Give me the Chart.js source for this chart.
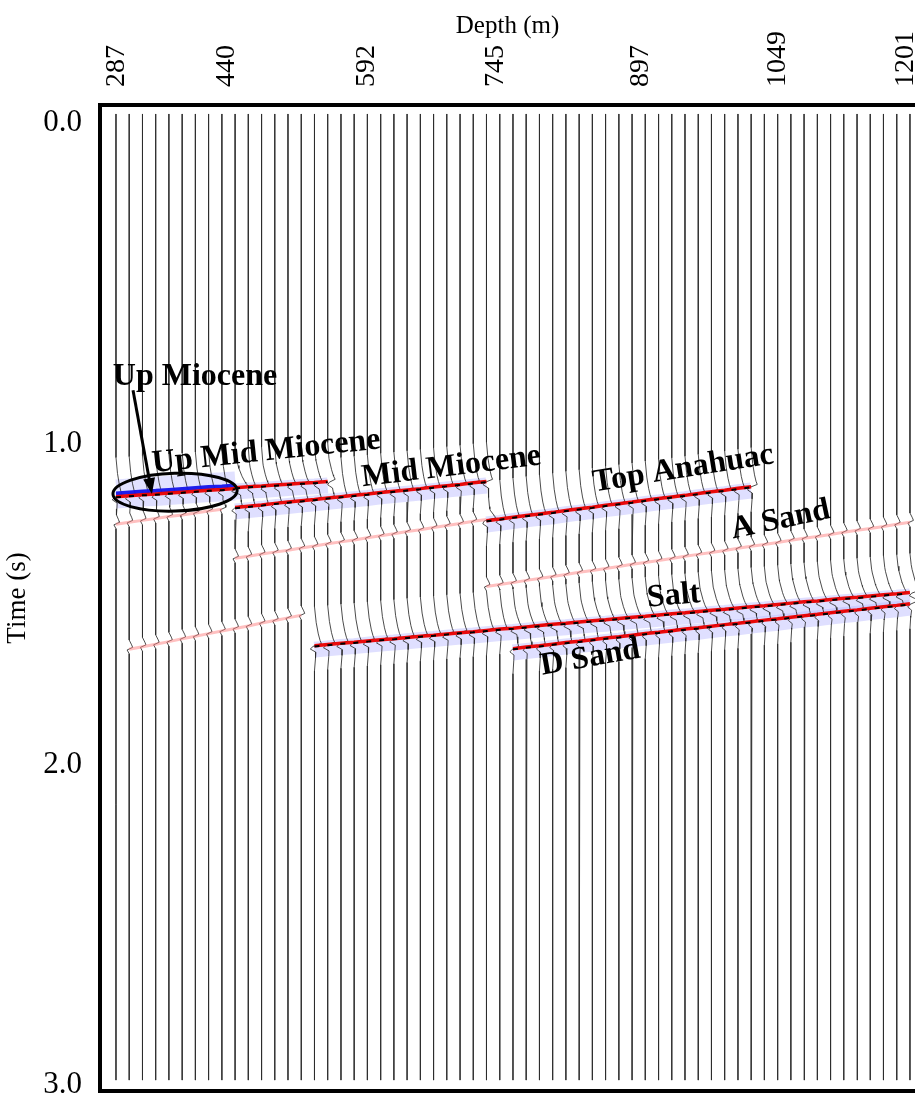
<!DOCTYPE html>
<html>
<head>
<meta charset="utf-8">
<script src="https://cdn.jsdelivr.net/npm/chart.js@4.4.0/dist/chart.umd.min.js"></script>
<style>
  html, body { margin: 0; padding: 0; background: #fff; overflow: hidden; }
  #wrap { width: 915px; height: 1101px; position: relative; }
  canvas { display: block; }
</style>
</head>
<body>
<div id="wrap"><canvas id="c"></canvas></div>
<script>
// trace positions (m)
const traceDepth = [287, 302.2, 317.5, 332.7, 347.9, 363.2, 378.4, 393.6, 408.9, 424.1,
  439.3, 454.6, 469.8, 485.0, 500.3, 515.5, 530.7, 546.0, 561.2, 576.4,
  591.7, 606.9, 622.1, 637.4, 652.6, 667.8, 683.1, 698.3, 713.5, 728.8,
  744.0, 759.2, 774.5, 789.7, 804.9, 820.2, 835.4, 850.6, 865.9, 881.1,
  896.3, 911.6, 926.8, 942.0, 957.3, 972.5, 987.7, 1003.0, 1018.2, 1033.4,
  1048.7, 1063.9, 1079.1, 1094.4, 1109.6, 1124.8, 1140.1, 1155.3, 1170.5, 1185.8, 1201.0];

const depthTickLabels = ['287', '440', '592', '745', '897', '1049', '1201'];
const depthTickPos = [288, 414, 576, 724, 891, 1049, 1196];
const timeTicks = [0, 1, 2, 3];

// picked horizon times (s), one per trace starting at the first trace
const upMioceneFirst = 0;
const upMioceneTimes = [1.163, 1.160, 1.157, 1.155, 1.152, 1.149, 1.146, 1.143, 1.141, 1.138];
const upMidMioceneFirst = 9;
const upMidMioceneTimes = [1.135, 1.132, 1.130, 1.127, 1.124, 1.121, 1.119, 1.116];
const midMioceneFirst = 9;
const midMioceneTimes = [1.197, 1.193, 1.189, 1.184, 1.180, 1.176, 1.172, 1.167, 1.163, 1.159,
  1.155, 1.150, 1.146, 1.142, 1.138, 1.133, 1.129, 1.125, 1.120, 1.116];
const topAnahuacFirst = 28;
const topAnahuacTimes = [1.238, 1.233, 1.227, 1.222, 1.217, 1.212, 1.206, 1.201, 1.196, 1.190,
  1.185, 1.180, 1.174, 1.169, 1.164, 1.159, 1.153, 1.148, 1.143, 1.137, 1.132];
const shallowWeakFirst = 0;
const shallowWeakTimes = [1.247, 1.241, 1.235, 1.229, 1.223, 1.218, 1.212, 1.206, 1.200];
const midWeakFirst = 9;
const midWeakTimes = [1.353, 1.347, 1.340, 1.334, 1.328, 1.321, 1.315, 1.308, 1.302, 1.296,
  1.289, 1.283, 1.277, 1.270, 1.264, 1.257, 1.251, 1.245, 1.238, 1.232];
const aSandFirst = 28;
const aSandTimes = [1.441, 1.435, 1.429, 1.422, 1.416, 1.410, 1.404, 1.397, 1.391, 1.385,
  1.379, 1.372, 1.366, 1.360, 1.354, 1.347, 1.341, 1.335, 1.329, 1.322,
  1.316, 1.310, 1.304, 1.297, 1.291, 1.285, 1.279, 1.272, 1.266, 1.260,
  1.254, 1.247, 1.241];
const deepWeakFirst = 1;
const deepWeakTimes = [1.637, 1.629, 1.621, 1.613, 1.604, 1.596, 1.588, 1.580, 1.572, 1.564,
  1.555, 1.547, 1.539, 1.531];
const saltFirst = 15;
const saltTimes = [1.628, 1.624, 1.620, 1.617, 1.613, 1.609, 1.606, 1.602, 1.598, 1.595,
  1.591, 1.587, 1.584, 1.580, 1.576, 1.573, 1.569, 1.565, 1.561, 1.558,
  1.554, 1.550, 1.547, 1.543, 1.539, 1.536, 1.532, 1.528, 1.525, 1.521,
  1.517, 1.514, 1.510, 1.506, 1.503, 1.499, 1.495, 1.491, 1.488, 1.484,
  1.480, 1.477, 1.473, 1.469, 1.466, 1.462];
const dSandFirst = 30;
const dSandTimes = [1.637, 1.632, 1.628, 1.623, 1.618, 1.614, 1.609, 1.604, 1.600, 1.595,
  1.590, 1.586, 1.581, 1.576, 1.572, 1.567, 1.562, 1.558, 1.553, 1.548,
  1.544, 1.539, 1.534, 1.530, 1.525, 1.520, 1.516, 1.511, 1.506, 1.502, 1.497];

// wavelet shapes (time offset s, relative swing)
const strongWaveDt = [-0.12, -0.07, -0.035, -0.015, -0.005, 0.004, 0.012, 0.022, 0.04, 0.08];
const strongWaveAmp = [0, 0.25, 0.55, 0.8, 1.0, -0.2, -0.6, 0.2, 0.15, 0];
const weakWaveDt = [-0.025, -0.01, -0.002, 0.006, 0.018];
const weakWaveAmp = [0, 0.7, 1.0, -0.6, 0];

const traceTop = -0.028, traceBottom = 2.984;

const horizons = [
  { first: upMioceneFirst, t: upMioceneTimes, strong: true, amp: 7, blue: true },
  { first: upMidMioceneFirst, t: upMidMioceneTimes, strong: true, amp: 6 },
  { first: midMioceneFirst, t: midMioceneTimes, strong: true, amp: 7 },
  { first: topAnahuacFirst, t: topAnahuacTimes, strong: true, amp: 7 },
  { first: shallowWeakFirst, t: shallowWeakTimes, strong: false, amp: 4 },
  { first: midWeakFirst, t: midWeakTimes, strong: false, amp: 4 },
  { first: aSandFirst, t: aSandTimes, strong: false, amp: 4 },
  { first: deepWeakFirst, t: deepWeakTimes, strong: false, amp: 4 },
  { first: saltFirst, t: saltTimes, strong: true, amp: 8 },
  { first: dSandFirst, t: dSandTimes, strong: true, amp: 6 }
];

function waveAt(dts, amps, dt) {
  if (dt <= dts[0] || dt >= dts[dts.length - 1]) return 0;
  for (let k = 1; k < dts.length; k++) {
    if (dt <= dts[k]) {
      const f = (dt - dts[k - 1]) / (dts[k] - dts[k - 1]);
      return amps[k - 1] + f * (amps[k] - amps[k - 1]);
    }
  }
  return 0;
}

const datasets = [];

// trace wiggles
traceDepth.forEach((d, i) => {
  const cross = [];
  horizons.forEach(h => {
    const k = i - h.first;
    if (k >= 0 && k < h.t.length) cross.push({ t: h.t[k], amp: h.amp, strong: h.strong });
  });
  let times = [traceTop, traceBottom];
  cross.forEach(c => {
    const dts = c.strong ? strongWaveDt : weakWaveDt;
    dts.forEach(dt => times.push(c.t + dt));
  });
  times = Array.from(new Set(times.map(v => +v.toFixed(4)))).sort((a, b) => a - b);
  const pts = times.map(t => {
    let off = 0;
    cross.forEach(c => {
      off += c.amp * (c.strong ? waveAt(strongWaveDt, strongWaveAmp, t - c.t)
                                : waveAt(weakWaveDt, weakWaveAmp, t - c.t));
    });
    return { x: d + off, y: t };
  });
  datasets.push({ data: pts, borderColor: 'rgba(45,45,45,0.85)', borderWidth: 1, order: 4 });
});

// horizon colour bands
horizons.forEach(h => {
  const pts = (dt) => h.t.map((t, k) => ({ x: traceDepth[h.first + k], y: t + dt }));
  if (h.strong) {
    datasets.push({ data: pts(0.014), borderColor: 'rgba(185,185,255,0.45)', borderWidth: 16, order: 5 });
    if (h.blue) {
      datasets.push({ data: pts(-0.03), borderColor: 'rgba(200,200,255,0.55)', borderWidth: 14, order: 5 });
      datasets.push({ data: pts(-0.008), borderColor: 'rgba(20,20,235,0.95)', borderWidth: 4, order: 3 });
    }
    datasets.push({ data: pts(0.002), borderColor: 'rgba(235,0,0,0.95)', borderWidth: 3.5, order: 2 });
    datasets.push({ data: pts(0.004), borderColor: '#000', borderWidth: 2, borderDash: [5, 8], order: 1 });
  } else {
    datasets.push({ data: pts(0.004), borderColor: 'rgba(255,130,130,0.5)', borderWidth: 3, order: 2 });
  }
});

datasets.forEach(ds => {
  ds.showLine = true; ds.pointRadius = 0; ds.fill = false; ds.tension = 0;
});

const serif = '"Liberation Serif", "Times New Roman", serif';

// annotation layout (data coordinates)
const notes = [
  { text: 'Up Miocene', d: 378, t: 0.792, rot: 0 },
  { text: 'Up Mid Miocene', d: 460, t: 1.026, rot: -6 },
  { text: 'Mid Miocene', d: 673, t: 1.073, rot: -7 },
  { text: 'Top Anahuac', d: 940, t: 1.079, rot: -9 },
  { text: 'A Sand', d: 1052, t: 1.238, rot: -12 },
  { text: 'Salt', d: 929, t: 1.475, rot: -5 },
  { text: 'D Sand', d: 833, t: 1.668, rot: -10 }
];

const annotate = {
  id: 'annotate',
  afterDatasetsDraw(chart) {
    const { ctx, scales: { x, y } } = chart;
    ctx.save();
    // ellipse round the Up Miocene event
    const ex = x.getPixelForValue(355), ey = y.getPixelForValue(1.151);
    const rx = x.getPixelForValue(355 + 71.5) - ex, ry = y.getPixelForValue(1.151 + 0.059) - ey;
    ctx.strokeStyle = '#000';
    ctx.lineWidth = 3;
    ctx.beginPath();
    ctx.ellipse(ex, ey, rx, ry, -0.03, 0, Math.PI * 2);
    ctx.stroke();
    // arrow
    const ax0 = x.getPixelForValue(306.6), ay0 = y.getPixelForValue(0.833);
    const ax1 = x.getPixelForValue(328.4), ay1 = y.getPixelForValue(1.157);
    const ang = Math.atan2(ay1 - ay0, ax1 - ax0);
    ctx.beginPath();
    ctx.moveTo(ax0, ay0);
    ctx.lineTo(ax1 - 10 * Math.cos(ang), ay1 - 10 * Math.sin(ang));
    ctx.stroke();
    ctx.beginPath();
    ctx.moveTo(ax1, ay1);
    ctx.lineTo(ax1 - 16 * Math.cos(ang) + 6 * Math.sin(ang), ay1 - 16 * Math.sin(ang) - 6 * Math.cos(ang));
    ctx.lineTo(ax1 - 16 * Math.cos(ang) - 6 * Math.sin(ang), ay1 - 16 * Math.sin(ang) + 6 * Math.cos(ang));
    ctx.closePath();
    ctx.fillStyle = '#000';
    ctx.fill();
    // labels
    ctx.font = 'bold 32px ' + serif;
    ctx.textAlign = 'center';
    ctx.textBaseline = 'middle';
    notes.forEach(n => {
      ctx.save();
      ctx.translate(x.getPixelForValue(n.d), y.getPixelForValue(n.t));
      ctx.rotate(n.rot * Math.PI / 180);
      ctx.fillText(n.text, 0, 0);
      ctx.restore();
    });
    ctx.restore();
  }
};

const xMin = 268.6, xMax = 1206.8;

function noPad(s) {
  s.paddingLeft = 0; s.paddingRight = 0; s.paddingTop = 0; s.paddingBottom = 0;
}

new Chart(document.getElementById('c'), {
  type: 'scatter',
  data: { datasets },
  options: {
    responsive: true,
    maintainAspectRatio: false,
    animation: false,
    devicePixelRatio: 1,
    layout: { padding: 0 },
    plugins: { legend: { display: false }, tooltip: { enabled: false } },
    scales: {
      x: {
        type: 'linear', position: 'top', min: xMin, max: xMax,
        afterBuildTicks: s => { s.ticks = depthTickPos.map(v => ({ value: v })); },
        afterFit: s => { s.height = 105; noPad(s); },
        ticks: {
          autoSkip: false, minRotation: 90, maxRotation: 90, padding: 18, labelOffset: 33.6, color: '#000',
          font: { family: serif, size: 28 },
          callback: (v, i) => depthTickLabels[i]
        },
        grid: { display: false, drawTicks: false },
        border: { display: true, width: 4, color: '#000' },
        title: { display: true, text: 'Depth (m)', color: '#000', font: { family: serif, size: 25 }, padding: { top: 11, bottom: 0 } }
      },
      x2: {
        type: 'linear', position: 'bottom', min: xMin, max: xMax,
        afterFit: s => { s.height = 10; noPad(s); },
        ticks: { display: false },
        grid: { display: false, drawTicks: false },
        border: { display: true, width: 4, color: '#000' }
      },
      y: {
        type: 'linear', reverse: true, min: -0.056, max: 3.018,
        afterBuildTicks: s => { s.ticks = timeTicks.map(v => ({ value: v })); },
        afterFit: s => { s.width = 100; noPad(s); },
        ticks: {
          padding: 18, color: '#000', font: { family: serif, size: 31 },
          callback: v => v.toFixed(1)
        },
        grid: { display: false, drawTicks: false },
        border: { display: true, width: 4, color: '#000' },
        title: { display: true, text: 'Time (s)', color: '#000', font: { family: serif, size: 27 }, padding: { top: 2, bottom: 0 } }
      }
    }
  },
  plugins: [annotate]
});
</script>
</body>
</html>
